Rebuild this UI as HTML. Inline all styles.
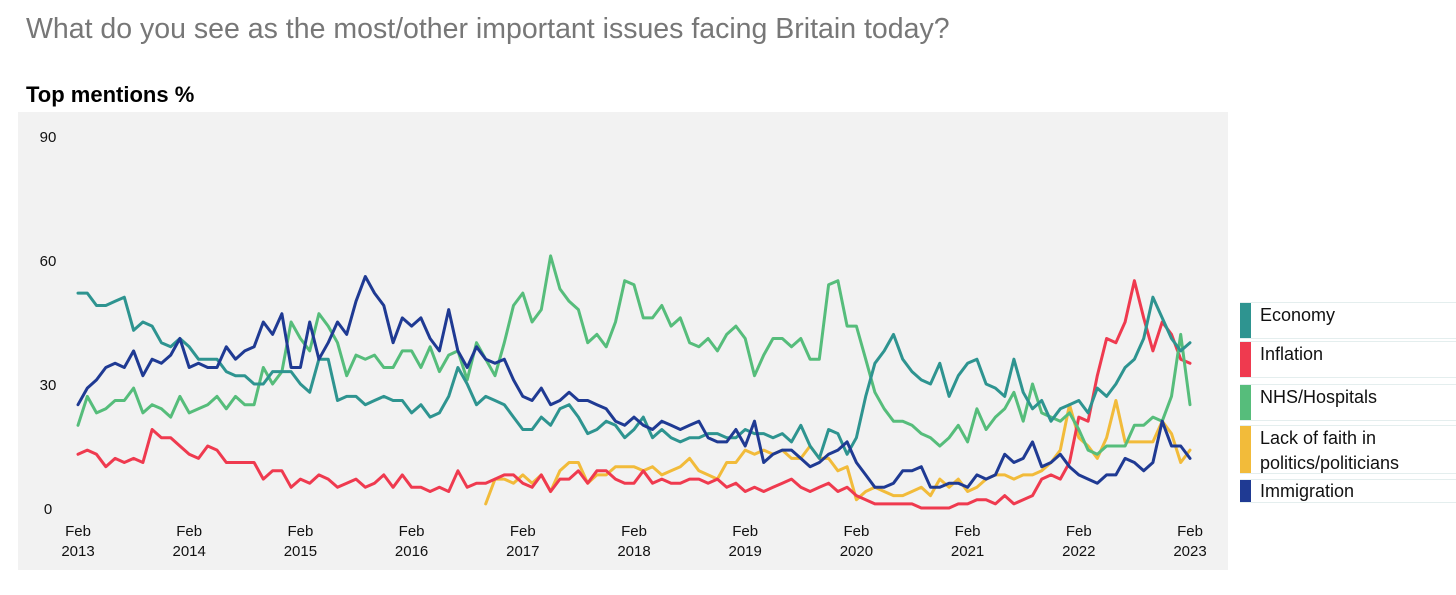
<!DOCTYPE html>
<html><head><meta charset="utf-8">
<style>
body{margin:0;width:1456px;height:595px;background:#fff;font-family:"Liberation Sans",Arial,sans-serif;overflow:hidden;position:relative}
.title{position:absolute;left:26px;top:13px;font-size:28.5px;color:#777}
.sub{position:absolute;left:26px;top:82px;font-size:22px;font-weight:bold;color:#000}
.leg{position:absolute;left:1240px;width:216px;border-top:1px solid #e4eeee;border-bottom:1px solid #e4eeee;box-sizing:border-box}
.leg .sw{position:absolute;left:0;top:0;bottom:0;width:11px}
.leg .tx{position:absolute;left:20px;font-size:18px;color:#111;line-height:25px}
</style></head><body>
<div class="title">What do you see as the most/other important issues facing Britain today?</div>
<div class="sub">Top mentions %</div>
<svg id="chart" width="1456" height="595" style="position:absolute;left:0;top:0">
<rect x="18" y="112" width="1210" height="458" fill="#f2f2f2"/>
</svg>
<div class="leg" style="top:302px;height:37px"><div class="sw" style="background:#2e9490"></div><div class="tx" style="top:0px">Economy</div></div>
<div class="leg" style="top:341px;height:37px"><div class="sw" style="background:#ef3a4f"></div><div class="tx" style="top:0px">Inflation</div></div>
<div class="leg" style="top:384px;height:37px"><div class="sw" style="background:#56bd7b"></div><div class="tx" style="top:0px">NHS/Hospitals</div></div>
<div class="leg" style="top:425px;height:49px"><div class="sw" style="background:#f2bb3a"></div><div class="tx" style="top:0px">Lack of faith in<br>politics/politicians</div></div>
<div class="leg" style="top:479px;height:24px"><div class="sw" style="background:#1f3a93"></div><div class="tx" style="top:-1px">Immigration</div></div>
<script>
const yTicks=[0,30,60,90];
const xYears=["2013","2014","2015","2016","2017","2018","2019","2020","2021","2022","2023"];
const economy=[52,52,49,49,50,51,43,45,44,40,39,41,39,36,36,36,33,32,32,30,30,33,33,33,30,28,36,36,26,27,27,25,26,27,26,26,23,
25,22,23,27,34,30,25,27,26,25,22,19,19,22,20,24,25,22,18,19,21,20,17,19,22,17,19,17,16,17,17,18,18,17,17,19,18,18,17,
18,16,20,15,12,19,18,13,17,27,35,38,42,36,33,31,30,35,27,32,35,36,30,29,27,36,28,24,26,21,24,25,26,23,29,27,30,34,36,41,51,46,41,38,40];
const inflation=[13,14,13,10,12,11,12,11,19,17,17,15,13,12,15,14,11,11,11,11,7,9,9,5,7,6,8,7,5,6,7,5,6,8,5,8,5,
5,4,5,4,9,5,6,6,7,8,8,6,5,8,4,7,7,9,6,9,9,7,6,6,9,6,7,6,6,7,7,6,7,5,6,4,5,4,5,
6,7,5,4,5,6,4,5,3,2,1,1,1,1,1,0,0,0,0,1,1,2,2,1,3,1,2,3,7,8,7,11,22,21,32,41,40,45,55,46,38,45,42,36,35];
const nhs=[20,27,23,24,26,26,29,23,25,24,22,27,23,24,25,27,24,27,25,25,34,30,33,45,41,38,47,44,40,32,37,36,37,34,34,38,38,
34,39,33,37,38,31,40,36,32,40,49,52,45,48,61,53,50,48,40,42,39,45,55,54,46,46,49,44,46,40,39,41,38,42,44,41,32,37,41,
41,39,41,36,36,54,55,44,44,36,28,24,21,21,20,18,17,15,17,20,16,24,19,22,24,28,21,30,23,22,21,23,19,14,13,15,15,15,20,20,22,21,27,42,25];
const faithStart=44;
const faith=[1,7,7,6,8,6,8,4,9,11,11,6,8,8,10,10,10,9,10,8,9,10,12,9,8,7,11,11,14,13,14,13,
14,12,12,15,12,12,9,10,2,4,5,4,3,3,4,5,3,7,5,7,4,5,7,8,8,7,8,8,9,11,14,25,17,15,12,17,26,16,16,16,16,21,18,11,14];
const immigration=[25,29,31,34,35,34,38,32,36,35,37,41,34,35,34,34,39,36,38,39,45,42,47,34,34,45,36,40,45,42,50,56,52,49,40,46,44,
46,41,38,48,38,34,39,36,35,36,31,27,26,29,25,26,28,26,26,25,24,21,20,22,20,19,21,20,19,20,21,17,16,16,19,15,21,11,13,
14,14,12,10,11,13,14,16,11,8,5,5,6,9,9,10,5,5,6,6,5,8,7,8,13,11,12,16,10,11,13,10,8,7,6,8,8,12,11,9,11,21,15,15,12];

const svg=document.getElementById('chart');
const NS='http://www.w3.org/2000/svg';
const xS=i=>78+i*(1112/120);
const yS=v=>508-v*(372/90);
function mk(tag,attrs){const e=document.createElementNS(NS,tag);for(const k in attrs)e.setAttribute(k,attrs[k]);svg.appendChild(e);return e;}
yTicks.forEach(t=>{
  const e=mk('text',{x:48,y:yS(t)+6,'text-anchor':'middle','font-size':15,fill:'#111'});
  e.textContent=t;
  
  
});
xYears.forEach((yr,k)=>{
  const x=xS(k*12);
  const a=mk('text',{x:x,y:536,'text-anchor':'middle','font-size':15,fill:'#111'});
  a.textContent='Feb';
  
  
  const b=mk('text',{x:x,y:556,'text-anchor':'middle','font-size':15,fill:'#111'});
  b.textContent=yr;
  
  
});
function line(data,start,color,name){
  const pts=data.map((v,i)=>xS(i+start).toFixed(1)+','+yS(v).toFixed(1)).join(' ');
  const p=mk('polyline',{points:pts,fill:'none',stroke:color,'stroke-width':3,'stroke-linejoin':'round','stroke-linecap':'round'});
  
  
}
line(faith,faithStart,'#f2bb3a','line-lack-of-faith');
line(inflation,0,'#ef3a4f','line-inflation');
line(nhs,0,'#56bd7b','line-nhs');
line(economy,0,'#2e9490','line-economy');
line(immigration,0,'#1f3a93','line-immigration');
</script>
</body></html>
